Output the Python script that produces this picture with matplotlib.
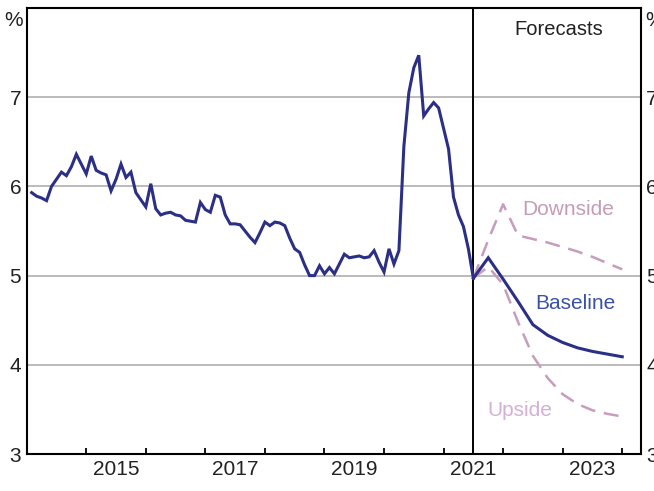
import matplotlib
matplotlib.use("Agg")
import matplotlib.pyplot as plt
import numpy as np
from matplotlib.ticker import FixedLocator, FixedFormatter, NullFormatter
import matplotlib.transforms as mtransforms

plt.rcParams['font.family'] = ['Liberation Sans', 'DejaVu Sans']

# Monthly unemployment rate, Jan 2014 - Jun 2021 (%)
hist_2014 = [5.93, 5.89, 5.87, 5.84, 6.00, 6.08, 6.16, 6.12, 6.22, 6.36, 6.25, 6.14]
hist_2015 = [6.34, 6.18, 6.15, 6.13, 5.95, 6.08, 6.25, 6.10, 6.16, 5.93, 5.85, 5.77]
hist_2016 = [6.03, 5.75, 5.68, 5.70, 5.71, 5.68, 5.67, 5.62, 5.61, 5.60, 5.82, 5.74]
hist_2017 = [5.71, 5.90, 5.88, 5.68, 5.58, 5.58, 5.57, 5.50, 5.43, 5.37, 5.48, 5.60]
hist_2018 = [5.56, 5.60, 5.59, 5.56, 5.42, 5.30, 5.26, 5.12, 5.00, 5.00, 5.11, 5.02]
hist_2019 = [5.09, 5.02, 5.13, 5.24, 5.20, 5.21, 5.22, 5.20, 5.21, 5.28, 5.15, 5.04]
hist_2020 = [5.30, 5.13, 5.28, 6.45, 7.05, 7.33, 7.47, 6.79, 6.87, 6.94, 6.88, 6.65]
hist_2021 = [6.42, 5.88, 5.68, 5.55, 5.30, 4.97]
hist_start_year = 2014

# Quarterly forecasts, Jun 2021 - Dec 2023 (%)
fc_start = 2021.5
baseline = [4.97, 5.20, 4.96, 4.71, 4.45, 4.33, 4.25, 4.19, 4.15, 4.12, 4.09]
downside = [4.97, 5.40, 5.80, 5.45, 5.41, 5.37, 5.32, 5.27, 5.21, 5.14, 5.07]
upside = [4.97, 5.10, 4.90, 4.48, 4.10, 3.85, 3.67, 3.56, 3.49, 3.45, 3.42]

year_labels = ['2015', '2017', '2019', '2021', '2023']
y_ticks = [3, 4, 5, 6, 7]

hist = hist_2014 + hist_2015 + hist_2016 + hist_2017 + hist_2018 + hist_2019 + hist_2020 + hist_2021
hist_x = hist_start_year + (np.arange(len(hist)) + 1) / 12.0
fc_x = fc_start + 0.25 * np.arange(len(baseline))

W, H = 654, 491
fig = plt.figure(figsize=(W / 100, H / 100), dpi=100)
L, R, B, T = 26.7, 640.7, 454, 8
ax = fig.add_axes([L / W, 1 - B / H, (R - L) / W, (B - T) / H])

navy = '#2b2f85'
pink = '#c79cbc'

ax.set_xlim(2014.0, 2024.31)
ax.set_ylim(3, 8)

for yv in [4, 5, 6, 7]:
    ax.axhline(yv, color='#a8a8a8', lw=1.1, zorder=1)

ax.axvline(fc_start, color='black', lw=1.4, zorder=2)

ax.plot(fc_x, downside, color=pink, lw=1.8, dashes=(6, 3.5), zorder=3)
ax.plot(fc_x, upside, color=pink, lw=1.8, dashes=(6, 3.5), zorder=3)
ax.plot(fc_x, baseline, color=navy, lw=2.2, zorder=4, solid_joinstyle='miter')
ax.plot(hist_x, hist, color=navy, lw=2.2, zorder=4, solid_joinstyle='miter')

fs = 15
ax.text(2022.94, 7.76, 'Forecasts', ha='center', va='center', fontsize=fs - 0.5, color='#222222')
ax.text(2023.09, 5.74, 'Downside', ha='center', va='center', fontsize=fs, color='#c49cb6')
ax.text(2023.22, 4.69, 'Baseline', ha='center', va='center', fontsize=fs, color='#3a52a6')
ax.text(2022.28, 3.49, 'Upside', ha='center', va='center', fontsize=fs, color='#d4b0d4')

# x axis: year-boundary ticks, mid-year labels
major_years = [int(y) for y in year_labels]
ax.xaxis.set_major_locator(FixedLocator(list(range(2015, 2025))))
ax.xaxis.set_major_formatter(NullFormatter())
ax.xaxis.set_minor_locator(FixedLocator([y + 0.5 for y in major_years]))
ax.xaxis.set_minor_formatter(FixedFormatter(year_labels))
ax.tick_params(axis='x', which='major', direction='in', length=4, width=1.3, color='black')
ax.tick_params(axis='x', which='minor', length=0, labelsize=fs, pad=4, labelcolor='#222222')

ax.set_yticks(y_ticks)
ax.set_yticklabels([str(v) for v in y_ticks])
ax.tick_params(axis='y', length=0, labelsize=fs, pad=4, labelright=True, labelcolor='#222222')

for s in ax.spines.values():
    s.set_linewidth(1.5)
    s.set_color('black')

trans_l = mtransforms.offset_copy(ax.get_yaxis_transform(), fig=fig, x=-3, y=0, units='points')
trans_r = mtransforms.offset_copy(ax.get_yaxis_transform(), fig=fig, x=3, y=0, units='points')
ax.text(0, 7.86, '%', transform=trans_l, ha='right', va='center', fontsize=fs, color='#222222')
ax.text(1, 7.86, '%', transform=trans_r, ha='left', va='center', fontsize=fs, color='#222222')

fig.savefig('out.png', dpi=100)
